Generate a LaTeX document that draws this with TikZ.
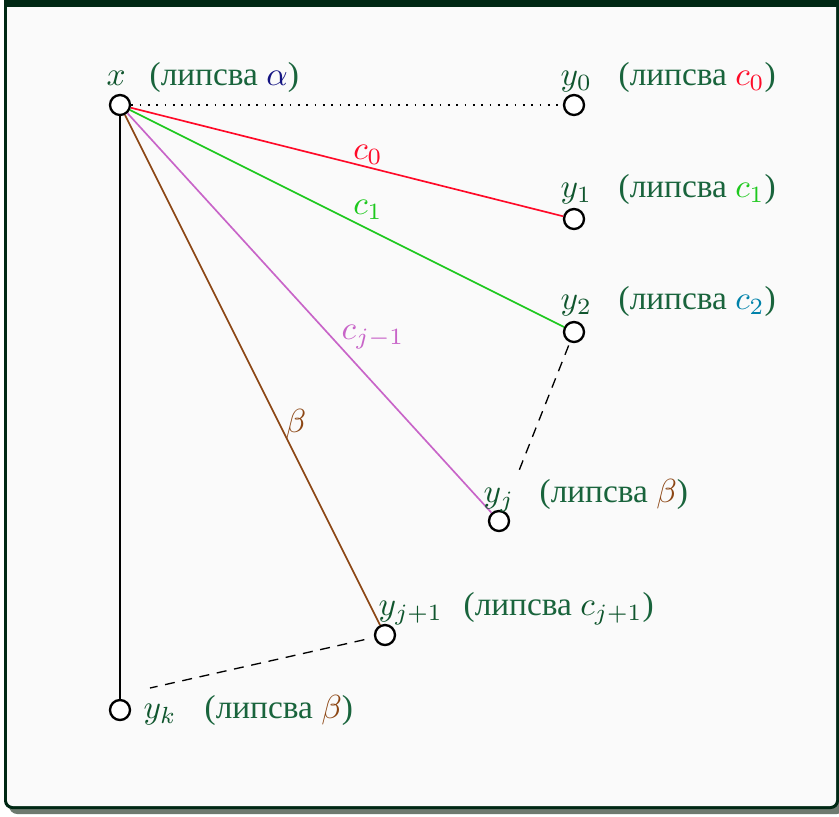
\documentclass[tikz,border=0pt]{standalone}
\usepackage[no-math]{fontspec}
\newfontfamily\cyr{Liberation Serif}
\definecolor{framegreen}{RGB}{0,40,20}
\definecolor{shadowgray}{RGB}{110,122,112}
\definecolor{bgcol}{RGB}{250,250,250}
\definecolor{txtgreen}{RGB}{25,100,60}
\definecolor{lblgreen}{RGB}{15,85,45}
\definecolor{cred}{RGB}{255,10,40}
\definecolor{cgreen}{RGB}{30,200,30}
\definecolor{cteal}{RGB}{0,130,170}
\definecolor{corchid}{RGB}{200,100,200}
\definecolor{cbrown}{RGB}{140,70,20}
\definecolor{calpha}{RGB}{20,20,130}
\begin{document}
\begin{tikzpicture}[x=0.3pt,y=-0.3pt,
  vtx/.style={circle,draw=black,fill=white,line width=0.7pt,minimum size=6pt,inner sep=0pt},
  lbl/.style={text=lblgreen,inner sep=0pt,anchor=base west},
  note/.style={text=txtgreen,inner sep=0pt,anchor=base west,font=\cyr},
  elbl/.style={inner sep=0pt},
  edge/.style={line width=0.5pt},
  gap/.style={line width=0.4pt,dash pattern=on 3pt off 2.3pt}]
\useasboundingbox (0,0) rectangle (839,816);
\fill[shadowgray,rounded corners=2.5pt] (9,-30) rectangle (845,814);
\fill[framegreen,rounded corners=2.5pt] (4,-30) rectangle (839,809);
\fill[bgcol] (7,7) -- (836,7) {[rounded corners=1.8pt] -- (836,806) -- (7,806)} -- cycle;

\node[vtx] (x) at (120,105) {};
\node[vtx] (y0) at (574,105) {};
\node[vtx] (y1) at (574,219) {};
\node[vtx] (y2) at (574,332) {};
\node[vtx] (yj) at (499,521) {};
\node[vtx] (yj1) at (385,635) {};
\node[vtx] (yk) at (120,710) {};
\coordinate (dk) at (150,688);

\draw[edge,dotted,black] (x) -- (y0);
\draw[edge,cred] (x) -- (y1);
\draw[edge,cgreen] (x) -- (y2);
\draw[edge,corchid] (x) -- (yj);
\draw[edge,cbrown] (x) -- (yj1);
\draw[line width=0.6pt,black] (x) -- (yk);
\draw[gap,shorten <=1pt,shorten >=11pt] (y2) -- (yj);
\draw[gap,shorten <=3pt] (yj1) -- (dk);

\node[lbl] (lx) at (106,85) {$x$};
\node[note] (nx) at (149,85) {(липсва {\color{calpha}$\alpha$})};
\node[lbl] (ly0) at (560,85) {$y_0$};
\node[note] (ny0) at (618,85) {(липсва {\color{cred}$c_0$})};
\node[lbl] (ly1) at (560,197) {$y_1$};
\node[note] (ny1) at (618,197) {(липсва {\color{cgreen}$c_1$})};
\node[lbl] (ly2) at (560,309) {$y_2$};
\node[note] (ny2) at (618,309) {(липсва {\color{cteal}$c_2$})};
\node[lbl] (lyj) at (483,502) {$y_j$};
\node[note] (nyj) at (539,502) {(липсва {\color{cbrown}$\beta$})};
\node[lbl] (lyj1) at (378,615) {$y_{j+1}$};
\node[note] (nyj1) at (463,615) {(липсва {\color{lblgreen}$c_{j+1}$})};
\node[lbl] (lyk) at (143,718) {$y_k$};
\node[note] (nyk) at (204,718) {(липсва {\color{cbrown}$\beta$})};

\node[elbl,text=cred] (lc0) at (368,155) {$c_0$};
\node[elbl,text=cgreen] (lc1) at (368,210) {$c_1$};
\node[elbl,text=corchid] (lcj) at (373,337) {$c_{j-1}$};
\node[elbl,text=cbrown] (lb) at (296,424) {$\beta$};
\end{tikzpicture}
\end{document}
